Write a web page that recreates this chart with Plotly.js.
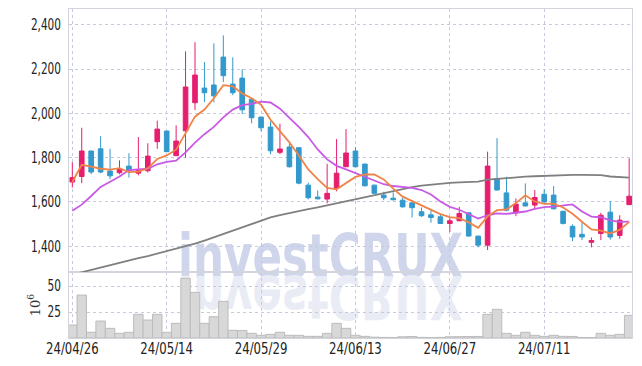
<!DOCTYPE html>
<html>
<head>
<meta charset="utf-8">
<script src="https://cdn.plot.ly/plotly-3.0.1.min.js"></script>
<style>
  html, body { margin: 0; padding: 0; background: #ffffff; }
  #chart { width: 642px; height: 366px; }
</style>
</head>
<body>
<div id="chart"></div>
<script>
const dates = ['24/04/26','24/04/29','24/04/30','24/05/02','24/05/03','24/05/07','24/05/08','24/05/09','24/05/10','24/05/13',
  '24/05/14','24/05/16','24/05/17','24/05/20','24/05/21','24/05/22','24/05/23','24/05/24','24/05/27','24/05/28',
  '24/05/29','24/05/30','24/05/31','24/06/03','24/06/04','24/06/05','24/06/07','24/06/10','24/06/11','24/06/12',
  '24/06/13','24/06/14','24/06/17','24/06/18','24/06/19','24/06/20','24/06/21','24/06/24','24/06/25','24/06/26',
  '24/06/27','24/06/28','24/07/01','24/07/02','24/07/03','24/07/04','24/07/05','24/07/08','24/07/09','24/07/10',
  '24/07/11','24/07/12','24/07/15','24/07/16','24/07/17','24/07/18','24/07/19','24/07/22','24/07/23','24/07/24'];

const openP  = [1690,1715,1830,1840,1740,1732,1762,1730,1741,1872,1920,1809,1921,2048,2114,2128,2254,2132,2159,2064,
  1983,1938,1824,1848,1845,1676,1622,1613,1661,1759,1830,1771,1676,1631,1617,1608,1596,1556,1542,1533,
  1503,1515,1551,1446,1405,1706,1641,1551,1596,1586,1635,1631,1558,1490,1454,1418,1458,1554,1449,1588];
const highP  = [1780,1935,1832,1897,1840,1788,1820,1893,1865,1967,1922,1946,2280,2321,2232,2316,2352,2253,2199,2066,
  1985,1964,1953,1862,1847,1687,1652,1772,1884,1929,1848,1773,1678,1646,1643,1620,1598,1575,1563,1542,
  1530,1578,1553,1447,1827,1888,1714,1616,1684,1654,1658,1672,1560,1499,1508,1440,1551,1604,1540,1797];
const lowP   = [1665,1685,1725,1730,1703,1725,1710,1720,1733,1840,1825,1808,1800,2015,2051,2050,2141,2082,1997,1955,
  1919,1816,1815,1755,1680,1612,1612,1594,1648,1758,1757,1670,1636,1608,1607,1574,1530,1533,1506,1500,
  1465,1513,1444,1395,1383,1652,1558,1536,1580,1567,1598,1567,1498,1423,1428,1395,1428,1430,1434,1587];
const closeP = [1710,1830,1735,1735,1718,1748,1741,1744,1807,1929,1827,1875,2119,2173,2093,2079,2170,2093,2016,1980,
  1935,1831,1839,1759,1685,1619,1614,1639,1730,1821,1759,1673,1639,1619,1610,1578,1574,1538,1530,1503,
  1515,1548,1446,1405,1762,1654,1563,1590,1582,1620,1600,1569,1503,1442,1442,1426,1540,1442,1518,1626];

const ma5  = [1690,1768,1760,1750,1746,1753,1735,1737,1752,1794,1810,1836,1911,1985,2017,2068,2127,2122,2090,2068,
  2039,1971,1920,1869,1810,1747,1703,1663,1657,1685,1713,1724,1724,1702,1660,1624,1604,1584,1566,1545,
  1532,1527,1508,1483,1535,1563,1566,1595,1630,1602,1591,1592,1575,1547,1511,1476,1471,1458,1474,1510];
const ma10 = [1560,1588,1627,1668,1691,1715,1744,1748,1750,1770,1781,1786,1824,1868,1906,1939,1982,2017,2037,2043,
  2053,2049,2021,1980,1939,1893,1837,1792,1763,1747,1730,1714,1694,1680,1672,1668,1664,1654,1634,1602,
  1578,1565,1546,1525,1540,1548,1546,1552,1557,1569,1577,1579,1585,1589,1557,1534,1531,1517,1510,1511];
const ma60 = [1272,1283,1294,1304,1315,1325,1335,1346,1356,1367,1378,1390,1401,1412,1426,1441,1457,1473,1488,1502,
  1516,1530,1541,1551,1560,1568,1576,1585,1594,1604,1613,1622,1632,1641,1651,1660,1667,1674,1679,1684,
  1686,1688,1690,1692,1701,1705,1709,1712,1714,1716,1718,1719,1720,1722,1722,1723,1721,1715,1711,1710];

const volume = [12.5,41.3,5.5,16.3,9.3,4.5,5.5,22.8,17.3,22.8,5.5,14.1,57.4,43.9,14.1,20.5,35.3,7.4,7.2,4.5,
  2.6,3.5,5.5,2.6,2.6,1.6,1.6,4.5,14.1,9.3,2.6,1.6,0.8,0.6,0.5,1.2,1.4,0.6,0.5,0.6,
  1.2,1.3,1.4,1.5,22.8,27.6,4.5,2.6,5.5,2.6,1.6,2.6,1.6,1.5,0.5,0.5,4.5,2.6,3.5,21.8];

const xTickLabels = ['24/04/26','24/05/14','24/05/29','24/06/13','24/06/27','24/07/11'];
const priceTicks = [1400,1600,1800,2000,2200,2400];
const volumeTicks = [25,50];
const watermark = 'investCRUX';

const UP = '#e61e6e', DOWN = '#3399cc';
const tickFont = {family: '"DejaVu Sans Condensed", "DejaVu Sans", sans-serif', size: 15, color: '#222222', weight: 500};
const gridColor = '#c6cadf';
const frameColor = '#d4d4dc';
const wmFont = '"DejaVu Sans Condensed", "DejaVu Sans", sans-serif';

const traces = [
  {
    type: 'bar', x: dates, y: volume, xaxis: 'x', yaxis: 'y2',
    marker: {color: '#d8d8d8', line: {color: '#bcbcbc', width: 1}},
    hoverinfo: 'skip', showlegend: false
  },
  {
    type: 'candlestick', x: dates, open: openP, high: highP, low: lowP, close: closeP,
    xaxis: 'x2', yaxis: 'y',
    increasing: {line: {color: UP, width: 1}, fillcolor: UP},
    decreasing: {line: {color: DOWN, width: 1}, fillcolor: DOWN},
    whiskerwidth: 0, showlegend: false
  },
  {type: 'scatter', mode: 'lines', x: dates, y: ma60, xaxis: 'x2', yaxis: 'y',
   line: {color: '#808080', width: 1.8}, showlegend: false},
  {type: 'scatter', mode: 'lines', x: dates, y: ma10, xaxis: 'x2', yaxis: 'y',
   line: {color: '#c85ae6', width: 1.8}, showlegend: false},
  {type: 'scatter', mode: 'lines', x: dates, y: ma5, xaxis: 'x2', yaxis: 'y',
   line: {color: '#f08448', width: 1.8}, showlegend: false}
];

const xRange = [-0.35, 59.3];
const layout = {
  width: 642, height: 366,
  margin: {l: 69, r: 10, t: 9, b: 28},
  paper_bgcolor: '#ffffff', plot_bgcolor: 'rgba(0,0,0,0)',
  bargap: 0,
  showlegend: false,
  xaxis: {
    type: 'category', anchor: 'y2', domain: [0, 1], range: xRange,
    tickmode: 'array', tickvals: xTickLabels, ticktext: xTickLabels,
    showgrid: true, gridcolor: gridColor, griddash: 'dot', gridwidth: 1,
    showline: true, mirror: true, linecolor: frameColor, linewidth: 1,
    ticks: '', tickfont: tickFont, ticklabelstandoff: -3,
    zeroline: false
  },
  xaxis2: {
    type: 'category', anchor: 'y', matches: 'x', range: xRange,
    tickmode: 'array', tickvals: xTickLabels, showticklabels: false,
    showgrid: true, gridcolor: gridColor, griddash: 'dot', gridwidth: 1,
    showline: true, mirror: true, linecolor: frameColor, linewidth: 1,
    ticks: '', rangeslider: {visible: false}, zeroline: false
  },
  yaxis: {
    domain: [0.2, 1], range: [1283, 2471],
    tickmode: 'array', tickvals: priceTicks, tickformat: ',d',
    showgrid: true, gridcolor: gridColor, griddash: 'dot', gridwidth: 1,
    showline: true, mirror: true, linecolor: frameColor, linewidth: 1,
    ticks: '', tickfont: tickFont, ticklabelstandoff: 4, zeroline: false
  },
  yaxis2: {
    domain: [0, 0.2], range: [0, 63.3],
    tickmode: 'array', tickvals: volumeTicks,
    showgrid: true, gridcolor: gridColor, griddash: 'dot', gridwidth: 1,
    showline: true, mirror: true, linecolor: frameColor, linewidth: 1,
    ticks: '', tickfont: tickFont, ticklabelstandoff: 4, zeroline: false,
    title: {text: '10<sup>6</sup>', font: {family: 'DejaVu Serif, serif', size: 13, color: '#333333'}, standoff: 0}
  },
  annotations: [
    {xref: 'paper', yref: 'paper', x: 0.446, y: 0.25, xanchor: 'center', yanchor: 'middle',
     text: watermark, showarrow: false,
     font: {family: wmFont, size: 61, weight: 700, color: '#cfd5ea'}},
    {xref: 'paper', yref: 'paper', x: 0.446, y: 0.122, xanchor: 'center', yanchor: 'middle',
     text: watermark, showarrow: false,
     font: {family: wmFont, size: 61, weight: 700, color: '#e9ecf5'}}
  ]
};

function squeeze(el, factor) {
  const w = el.getComputedTextLength();
  if (w > 0) {
    el.setAttribute('textLength', (w * factor).toFixed(1));
    el.setAttribute('lengthAdjust', 'spacingAndGlyphs');
  }
}

const gd = document.getElementById('chart');
Plotly.newPlot(gd, traces, layout, {displayModeBar: false, staticPlot: true}).then(function () {
  gd.querySelectorAll('.ytick text, .y2tick text').forEach(function (t) { squeeze(t, 0.78); });
  gd.querySelectorAll('.xtick text').forEach(function (t) { squeeze(t, 0.87); });
  const below = gd.querySelector('.layer-below');
  const anns = gd.querySelectorAll('.annotation');
  anns.forEach(function (a, i) {
    if (below) below.appendChild(a);
    const t = a.querySelector('text');
    if (t) {
      const w = t.getComputedTextLength();
      if (w > 0) {
        t.setAttribute('textLength', '285');
        t.setAttribute('lengthAdjust', 'spacingAndGlyphs');
      }
      if (i === 1) {
        t.style.transformBox = 'fill-box';
        t.style.transformOrigin = 'center';
        t.style.transform = 'scaleY(-1)';
      }
    }
  });
});
</script>
</body>
</html>
